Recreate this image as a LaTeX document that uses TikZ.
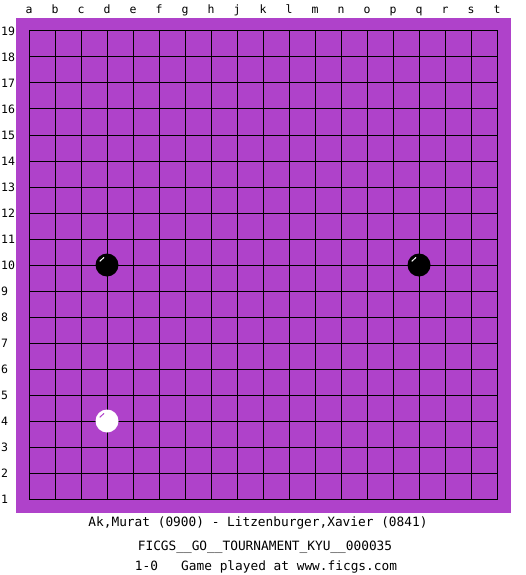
\documentclass[tikz,border=0pt]{standalone}
\usepackage{fontspec}
\setmonofont{DejaVu Sans Mono}
\usepackage{xcolor}
\definecolor{boardpurple}{RGB}{175,66,202}
\begin{document}
\begin{tikzpicture}[x=1pt,y=-1pt,line cap=rect,
  coordlabel/.style={font=\ttfamily\fontsize{11.5}{13}\selectfont,inner sep=0pt},
  caption/.style={font=\ttfamily\fontsize{12.8}{14}\selectfont,inner sep=0pt,anchor=base}]
\useasboundingbox[fill=white] (0,0) rectangle (525,575);
% board
\fill[boardpurple] (16,18) rectangle (511,513);
\foreach \i in {0,...,18}{
  \draw[line width=1pt] (29+26*\i,31) -- (29+26*\i,499);
  \draw[line width=1pt] (29,31+26*\i) -- (497,31+26*\i);
}
% column letters (no i)
\foreach \l [count=\c from 0] in {a,b,c,d,e,f,g,h,j,k,l,m,n,o,p,q,r,s,t}
  \node[coordlabel,anchor=base] (col\l) at (29+26*\c,14) {\l};
% row numbers
\foreach \r in {1,...,19}
  \node[coordlabel,anchor=west] (row\r) at (1,31+26*19-26*\r) {\r};
% stones
\fill[black] (107,265) circle (11.5);
\draw[white,line width=1pt] (107,265) ++(210:8) arc (210:245:8);
\fill[black] (419,265) circle (11.5);
\draw[white,line width=1pt] (419,265) ++(210:8) arc (210:245:8);
\fill[white] (107,421) circle (11.5);
\draw[boardpurple,line width=1pt] (107,421) ++(210:8) arc (210:245:8);
% caption
\node[caption] (players) at (258,526) {Ak,Murat (0900) - Litzenburger,Xavier (0841)};
\node[caption] (event) at (265,550) {FICGS\_\_GO\_\_TOURNAMENT\_KYU\_\_000035};
\node[caption] (result) at (266,570) {1-0\ \ \ Game played at www.ficgs.com};
\end{tikzpicture}
\end{document}
